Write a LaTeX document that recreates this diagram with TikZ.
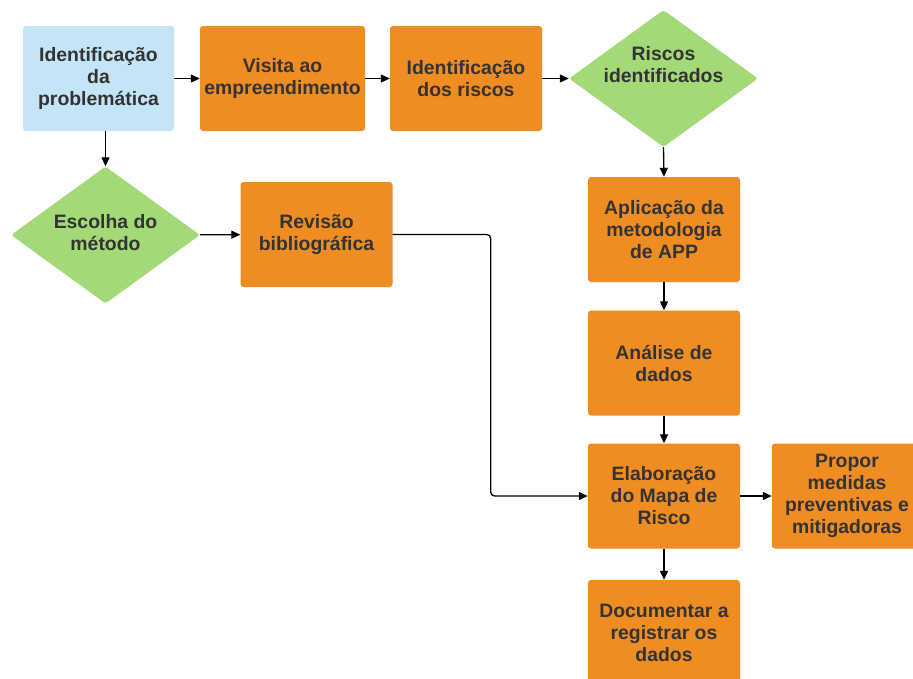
\documentclass[tikz,border=0pt]{standalone}
\usepackage{fontspec}
\setmainfont{Liberation Sans}
\usetikzlibrary{shapes.geometric,arrows.meta}
\definecolor{orangebox}{HTML}{EF8C22}
\definecolor{bluebox}{HTML}{C4E5F7}
\definecolor{greenbox}{HTML}{A3D977}
\definecolor{txt}{HTML}{333333}
\begin{document}
\begin{tikzpicture}[x=1pt,y=-1pt,
  lbl/.style={font=\fontsize{19.4}{22}\selectfont\bfseries, text=txt, align=center},
  box/.style={lbl, rectangle, rounded corners=3pt, fill=orangebox, minimum width=152pt, minimum height=105pt, inner sep=0pt},
  bluenode/.style={box, fill=bluebox},
  decision/.style={diamond, rounded corners=3pt, fill=greenbox, minimum width=189pt, minimum height=137pt, inner sep=0pt},
  arr/.style={draw=black, line width=1.3pt, -{Triangle[length=9pt,width=8pt]}}
]
\fill[white] (0,0) rectangle (913,678);
\useasboundingbox (0,0) rectangle (913,678);
\clip (0,0) rectangle (913,678);

\node[bluenode, minimum width=151pt] (ident) at (98.5,78.5) {Identificação\\da\\problemática};
\node[box, minimum width=165pt] (visita) at (282.5,78.5) {Visita ao\\empreendimento};
\node[box] (riscos) at (466,78.5) {Identificação\\dos riscos};
\node[decision] (riscid) at (663.5,78.5) {};
\node[lbl] (riscidtxt) at (663.5,65) {Riscos\\identificados};

\node[decision] (escolha) at (105.5,235) {};
\node[lbl] (escolhatxt) at (105.5,233) {Escolha do\\método};
\node[box] (revisao) at (316.5,234.5) {Revisão\\bibliográfica};

\node[box] (aplic) at (664,229.5) {Aplicação da\\metodologia\\de APP};
\node[box] (analise) at (664,363) {Análise de\\dados};
\node[box] (elab) at (664,496) {Elaboração\\do Mapa de\\Risco};
\node[box, minimum width=150pt] (propor) at (847,496) {Propor\\medidas\\preventivas e\\mitigadoras};
\node[box] (doc) at (664,632.5) {Documentar a\\registrar os\\dados};

\draw[arr] (ident) -- (visita);
\draw[arr] (visita) -- (riscos);
\draw[arr] (riscos) -- (riscid);
\draw[arr] (escolha.north |- ident.south) -- (escolha.north);
\draw[arr] (escolha) -- (revisao);
\draw[arr, rounded corners=4pt] (revisao.east) -- ++(98,0) |- (elab.west);
\draw[arr] (riscid.south) -- (aplic.north);
\draw[arr] (aplic) -- (analise);
\draw[arr] (analise) -- (elab);
\draw[arr] (elab) -- (propor);
\draw[arr] (elab) -- (doc);
\end{tikzpicture}
\end{document}
